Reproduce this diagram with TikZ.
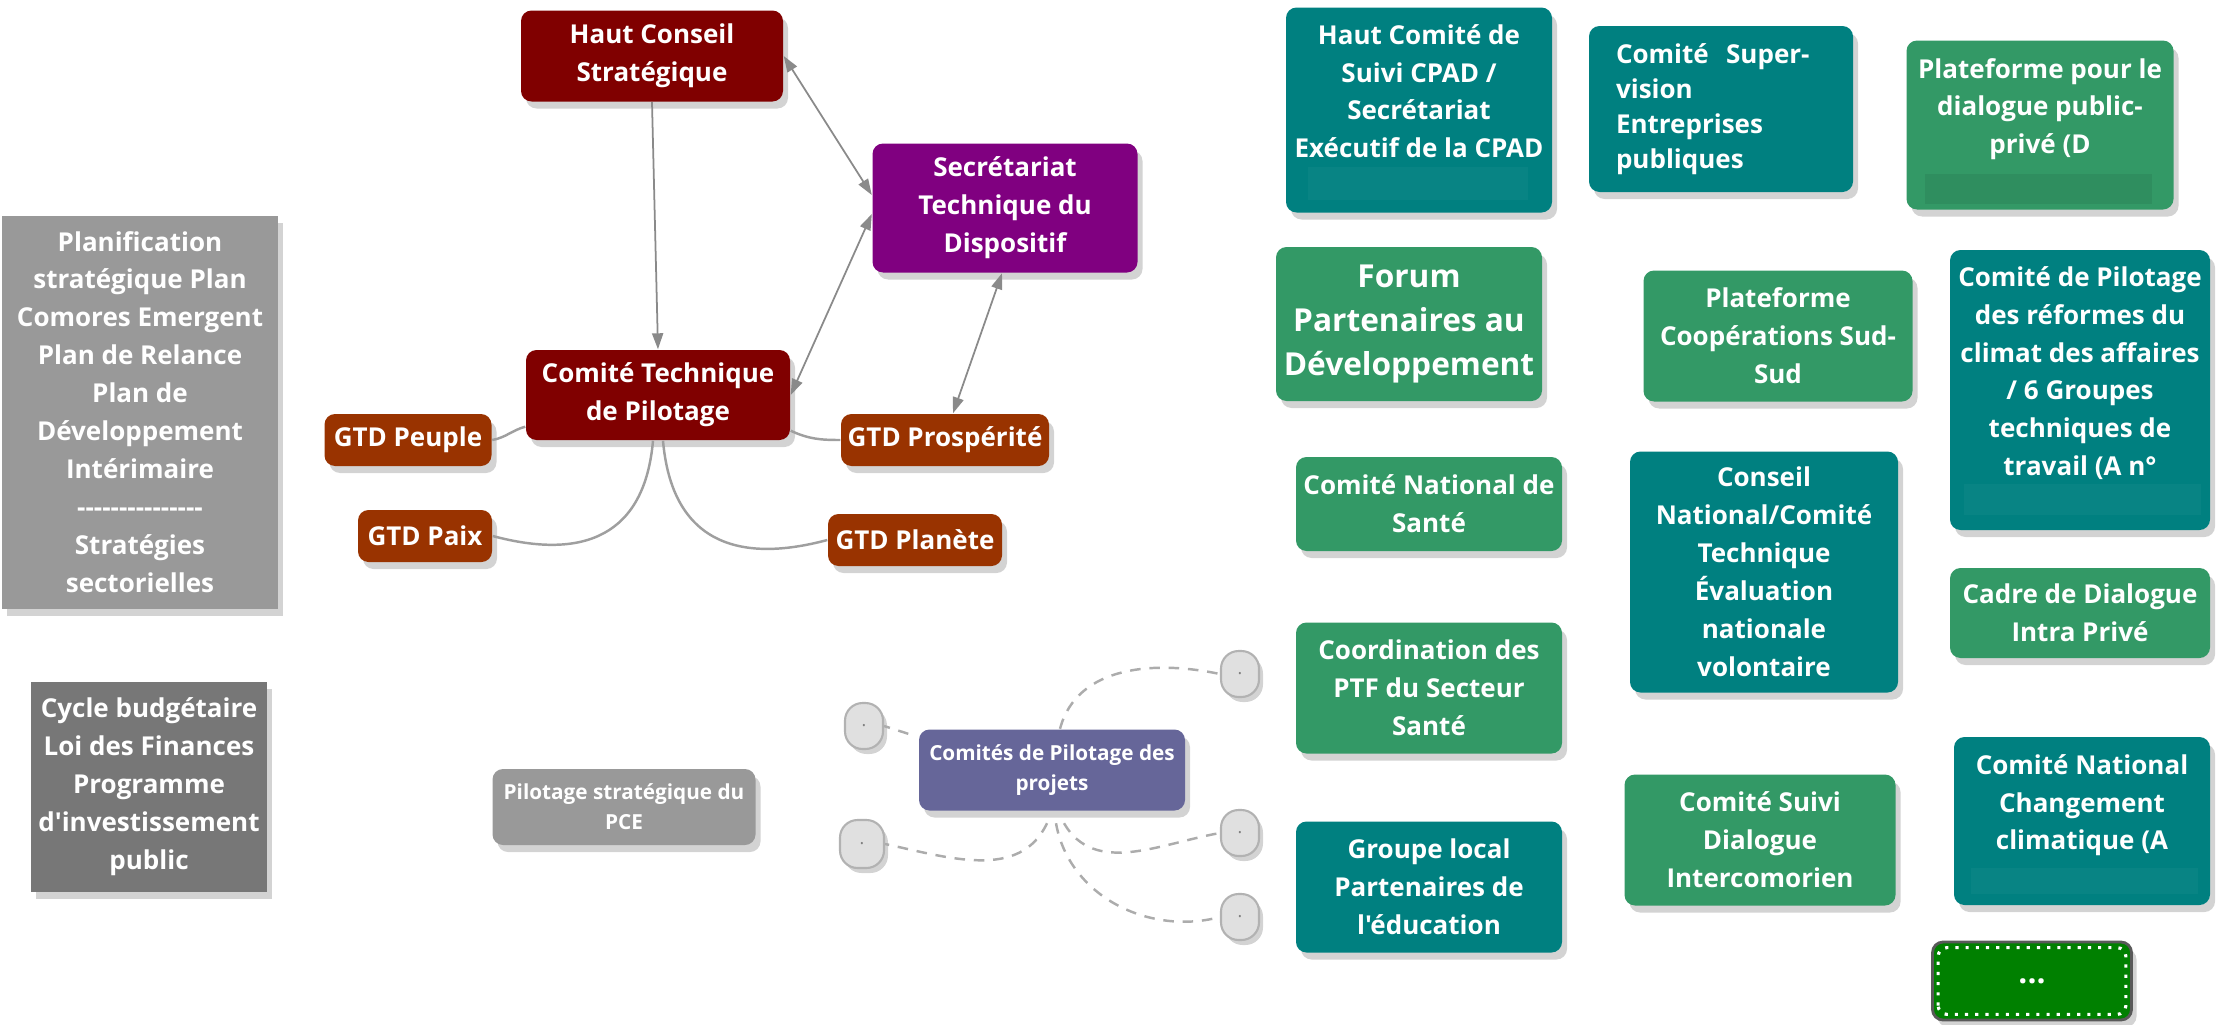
\documentclass[tikz,border=0pt]{standalone}
\usepackage{fontspec}
\setmainfont{Open Sans}[Ligatures=TeXOff]
\usetikzlibrary{arrows.meta, positioning, shadows, calc}

\definecolor{darkmaroon}{HTML}{800000}
\definecolor{darkviolet}{HTML}{800080}
\definecolor{rust}{HTML}{993300}
\definecolor{deepteal}{HTML}{008080}
\definecolor{seagreen}{HTML}{339966}
\definecolor{slateblue}{HTML}{666699}
\definecolor{planfill}{HTML}{999999}
\definecolor{cyclefill}{HTML}{777777}
\definecolor{morefill}{HTML}{008000}
\definecolor{pillfill}{HTML}{E0E0E0}
\definecolor{linkgray}{HTML}{8A8A8A}

\newcommand{\diagfont}{\fontsize{7.4}{10.8}\selectfont\bfseries}
\newcommand{\bigdiagfont}{\fontsize{9}{12.5}\selectfont\bfseries}
\newcommand{\smalldiagfont}{\fontsize{5.9}{8.5}\selectfont\bfseries}

\begin{document}
\begin{tikzpicture}[
      box/.style={rectangle, rounded corners=3pt, text=white, font=\diagfont, align=center, inner sep=1pt,
        drop shadow={shadow xshift=0.5mm, shadow yshift=-0.7mm, opacity=0.35}},
      hub/.style={box, fill=darkmaroon},
      secr/.style={box, fill=darkviolet},
      gtd/.style={box, fill=rust, minimum height=0.52cm},
      plan/.style={box, rounded corners=0pt},
      pilot/.style={box, font=\smalldiagfont},
      tealnode/.style={box, fill=deepteal, minimum width=2.66cm},
      greennode/.style={box, fill=seagreen, minimum width=2.66cm},
      pill/.style={rectangle, rounded corners=5pt, fill=pillfill, draw=gray!60, line width=0.6pt,
        minimum width=0.38cm, minimum height=0.46cm, inner sep=0pt, text=gray, font=\fontsize{5}{5}\selectfont,
        drop shadow={shadow xshift=0.4mm, shadow yshift=-0.5mm, opacity=0.35}},
      link/.style={draw=linkgray, line width=0.5pt, -{Triangle[length=1.6mm, width=1.1mm]}},
      twoway/.style={draw=linkgray, line width=0.5pt, {Triangle[length=1.6mm, width=1.1mm]}-{Triangle[length=1.6mm, width=1.1mm]}},
      branch/.style={draw=gray!75, line width=0.7pt},
      dashlink/.style={draw=gray!65, line width=0.7pt, dash pattern=on 3pt off 2.5pt}]

      \useasboundingbox (0,0) rectangle (22.28,-10.24);

      % Pilotage strategique
      \node[hub, minimum width=2.62cm, minimum height=0.91cm] (hcs) at (6.52,-0.56) {Haut Conseil\\Stratégique};
      \node[secr, minimum width=2.65cm, minimum height=1.29cm] (std) at (10.05,-2.08) {Secrétariat\\Technique du\\Dispositif};
      \node[hub, minimum width=2.64cm, minimum height=0.90cm] (ctp) at (6.58,-3.95) {Comité Technique\\de Pilotage};
      \node[gtd, minimum width=1.67cm] (peuple) at (4.08,-4.40) {GTD Peuple};
      \node[gtd, minimum width=2.08cm] (prosp) at (9.45,-4.40) {GTD Prospérité};
      \node[gtd, minimum width=1.34cm] (paix) at (4.25,-5.36) {GTD Paix};
      \node[gtd, minimum width=1.74cm] (planete) at (9.15,-5.40) {GTD Planète};

      % Arrows
      \draw[link] (hcs.south) -- (ctp.north);
      \draw[twoway] (hcs.east) -- ([yshift=0.13cm]std.west);
      \draw[twoway] (ctp.east) -- ([yshift=-0.06cm]std.west);
      \draw[twoway] ([xshift=-0.03cm]std.south) -- ([xshift=0.08cm]prosp.north);

      \draw[branch] ([yshift=0.14cm]ctp.south west) to[out=195, in=10] (peuple.east);
      \draw[branch] ([yshift=0.10cm]ctp.south east) to[out=-25, in=180] (prosp.west);
      \draw[branch] ([xshift=-0.05cm]ctp.south) to[out=-95, in=-15, looseness=1.3] (paix.east);
      \draw[branch] ([xshift=0.05cm]ctp.south) to[out=-85, in=195, looseness=1.3] (planete.west);

      % Planification
      \node[plan, fill=planfill, minimum width=2.75cm, minimum height=3.93cm] (planif) at (1.40,-4.12)
        {Planification\\stratégique Plan\\Comores Emergent\\Plan de Relance\\Plan de\\Développement\\Intérimaire\\---------------\\Stratégies\\sectorielles};
      \node[plan, fill=cyclefill, minimum width=2.36cm, minimum height=2.10cm] (cycle) at (1.49,-7.87)
        {Cycle budgétaire\\Loi des Finances\\Programme\\d'investissement\\public};
      \node[pilot, fill=planfill, minimum width=2.63cm, minimum height=0.76cm] (pce) at (6.24,-8.07) {Pilotage stratégique du\\PCE};

      % Projets
      \node[pilot, fill=slateblue, minimum width=2.66cm, minimum height=0.81cm] (cpp) at (10.52,-7.70) {Comités de Pilotage des\\projets};
      \node[pill] (lt) at (8.64,-7.26) {.};
      \node[pill, minimum width=0.44cm, minimum height=0.48cm] (lb) at (8.62,-8.44) {.};
      \node[pill] (rt) at (12.40,-6.74) {.};
      \node[pill] (rm) at (12.40,-8.33) {.};
      \node[pill] (rb) at (12.40,-9.17) {.};

      \draw[dashlink] ([yshift=-0.05cm,xshift=-0.1cm]cpp.north west) -- (lt.east);
      \draw[dashlink] ([xshift=0.08cm]cpp.north) to[out=75, in=168] (rt.west);
      \draw[dashlink] ([xshift=-0.05cm,yshift=-0.12cm]cpp.south) to[out=-115, in=-12] (lb.east);
      \draw[dashlink] ([xshift=0.12cm,yshift=-0.12cm]cpp.south) to[out=-60, in=190] (rm.west);
      \draw[dashlink] ([xshift=0.04cm,yshift=-0.12cm]cpp.south) to[out=-80, in=195] (rb.west);

      % Comites et cadres de dialogue
      \node[tealnode, minimum height=2.05cm] (hcsuivi) at (14.19,-1.10) {Haut Comité de\\Suivi CPAD /\\Secrétariat\\Exécutif de la CPAD\\\mbox{}};
      \node[tealnode, minimum width=2.64cm, minimum height=1.66cm, text width=2.10cm, align=left, inner xsep=0.27cm,
        font=\fontsize{7.4}{10}\selectfont\bfseries] (csep) at (17.21,-1.09) {Comité\ \ Super-\\vision\\Entreprises\\publiques};
      \node[greennode, minimum width=2.67cm, minimum height=1.69cm] (ppp) at (20.40,-1.25) {Plateforme pour le\\dialogue public-\\privé (D\\\mbox{}};
      \node[greennode, minimum height=1.54cm, font=\bigdiagfont] (forum) at (14.09,-3.24) {Forum\\Partenaires au\\Développement};
      \node[greennode, minimum width=2.69cm, minimum height=1.31cm] (sudsud) at (17.78,-3.36) {Plateforme\\Coopérations Sud-\\Sud};
      \node[tealnode, minimum width=2.60cm, minimum height=2.80cm] (climat) at (20.80,-3.90)
        {Comité de Pilotage\\des réformes du\\climat des affaires\\/ 6 Groupes\\techniques de\\travail (A n°\\\mbox{}};
      \node[greennode, minimum height=0.94cm] (cns) at (14.29,-5.04) {Comité National de\\Santé};
      \node[tealnode, minimum width=2.68cm, minimum height=2.41cm] (cnev) at (17.64,-5.72)
        {Conseil\\National/Comité\\Technique\\Évaluation\\nationale\\volontaire};
      \node[greennode, minimum width=2.60cm, minimum height=0.90cm] (cdip) at (20.80,-6.13) {Cadre de Dialogue\\Intra Privé};
      \node[greennode, minimum height=1.31cm] (ptf) at (14.29,-6.88) {Coordination des\\PTF du Secteur\\Santé};
      \node[greennode, minimum width=2.71cm, minimum height=1.31cm] (csdi) at (17.60,-8.40) {Comité Suivi\\Dialogue\\Intercomorien};
      \node[tealnode, minimum width=2.56cm, minimum height=1.68cm] (cncc) at (20.82,-8.21) {Comité National\\Changement\\climatique (A\\\mbox{}};
      \node[tealnode, minimum height=1.31cm] (glpe) at (14.29,-8.87) {Groupe local\\Partenaires de\\l'éducation};
      \node[box, fill=morefill, draw=black!65, line width=0.8pt, minimum width=1.99cm, minimum height=0.78cm, font=\bigdiagfont] (more) at (20.32,-9.81) {...};
      \draw[white, dotted, line width=0.9pt, rounded corners=2.5pt] ([shift={(2pt,2pt)}]more.south west) rectangle ([shift={(-2pt,-2pt)}]more.north east);

      % masked lines
      \fill[deepteal!97!white] ($(hcsuivi.south west)+(0.23,0.13)$) rectangle ($(hcsuivi.south east)+(-0.25,0.46)$);
      \fill[seagreen!93!black] ($(ppp.south west)+(0.19,0.06)$) rectangle ($(ppp.south east)+(-0.22,0.36)$);
      \fill[deepteal!97!white] ($(climat.south west)+(0.15,0.16)$) rectangle ($(climat.south east)+(-0.10,0.47)$);
      \fill[deepteal!97!white] ($(cncc.south west)+(0.18,0.12)$) rectangle ($(cncc.south east)+(-0.13,0.38)$);
    \end{tikzpicture}
\end{document}
